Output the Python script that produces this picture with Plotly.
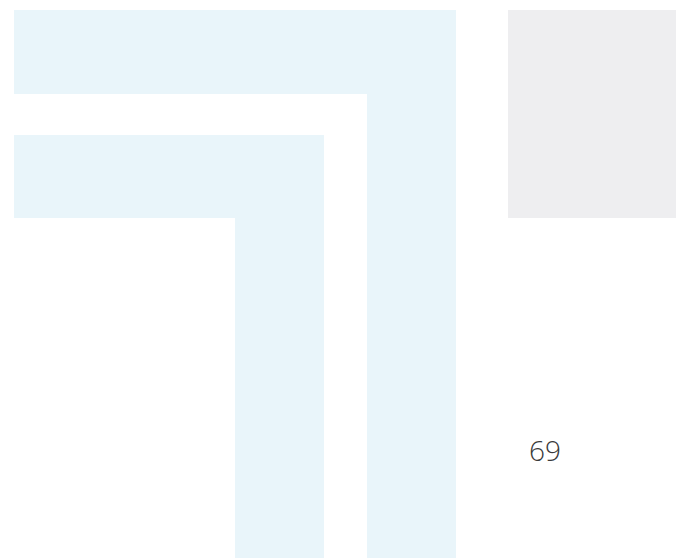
import plotly.graph_objects as go

# Outer bracket band (horizontal arm then vertical leg)
outer_x = [14, 456, 456, 367, 367, 14]
outer_y = [10, 10, 558, 558, 94, 94]

# Inner bracket band
inner_x = [14, 324, 324, 235, 235, 14]
inner_y = [135, 135, 558, 558, 218, 218]

# Grey panel
panel_x = [508, 676, 676, 508]
panel_y = [10, 10, 218, 218]

# Value label
value_text = ["69"]
value_x = [545]
value_y = [454]

BLUE = "#e9f5fa"
GREY = "#eeeef0"

fig = go.Figure()
for xs, ys, col in [(outer_x, outer_y, BLUE), (inner_x, inner_y, BLUE), (panel_x, panel_y, GREY)]:
    fig.add_trace(go.Scatter(x=xs, y=ys, fill="toself", fillcolor=col, mode="lines",
                             line=dict(width=0, color=col), hoverinfo="skip", showlegend=False))

fig.add_trace(go.Scatter(x=value_x, y=value_y, mode="text", text=value_text,
                         textfont=dict(family="Open Sans", size=28, color="#3a3a3a", weight=300),
                         showlegend=False, hoverinfo="skip"))

fig.update_layout(
    width=676, height=558,
    margin=dict(l=0, r=0, t=0, b=0),
    paper_bgcolor="white", plot_bgcolor="white",
    xaxis=dict(range=[0, 676], visible=False, fixedrange=True),
    yaxis=dict(range=[558, 0], visible=False, fixedrange=True),
)
fig.write_html(
    "out.html",
    config={"displayModeBar": False},
    post_script="document.body.style.margin='0';document.body.style.overflow='hidden';",
)
